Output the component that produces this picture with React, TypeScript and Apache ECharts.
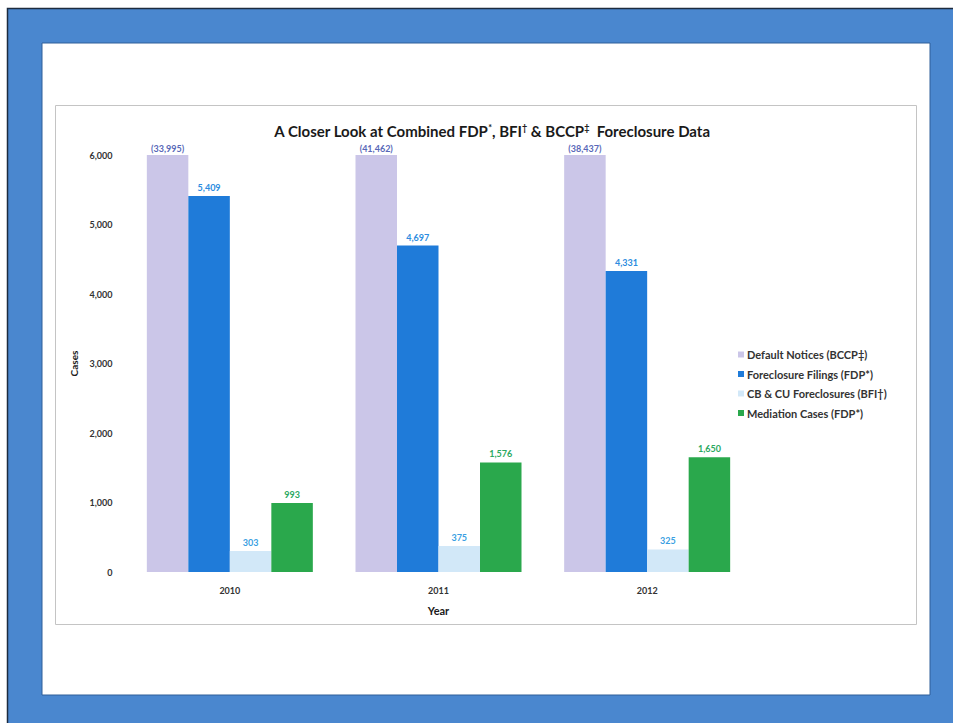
import React, { useEffect, useRef } from "react";
import * as echarts from "echarts";

const years = ["2010", "2011", "2012"];
const defaultNotices = [33995, 41462, 38437];
const foreclosureFilings = [5409, 4697, 4331];
const cbCuForeclosures = [303, 375, 325];
const mediationCases = [993, 1576, 1650];
const yTicks = { min: 0, max: 6000, interval: 1000 };

const seriesNames = [
  "Default Notices (BCCP\u2021)",
  "Foreclosure Filings (FDP*)",
  "CB & CU Foreclosures (BFI\u2020)",
  "Mediation Cases (FDP*)",
];
const colors = ["#cbc6e8", "#1f7bd9", "#d2e8f8", "#2aa84c"];
const labelColors = ["#5868b8", "#2c8ce0", "#3a9fe2", "#2aa860"];

const FONT = "Lato, 'Open Sans', sans-serif";

export default function App() {
  const ref = useRef<HTMLDivElement>(null);
  useEffect(() => {
    if (!ref.current) return;
    const chart = echarts.init(ref.current, undefined, { renderer: "svg" });
    const fmt = (v: number) => v.toLocaleString("en-US");
    const mk = (i: number, data: number[], raw?: number[]) => ({
      name: seriesNames[i],
      type: "bar",
      barWidth: 41.5,
      barGap: "0%",
      itemStyle: { color: colors[i] },
      data: data,
      label: {
        show: true,
        position: "top",
        distance: raw ? 2 : 4,
        color: labelColors[i],
        fontFamily: FONT,
        fontWeight: "bold",
        fontSize: 9,
        formatter: (p: any) =>
          raw ? "(" + fmt(raw[p.dataIndex]) + ")" : fmt(p.value),
      },
    });
    const capped = defaultNotices.map((v) => Math.min(v, yTicks.max));
    chart.setOption({
      animation: false,
      backgroundColor: "#ffffff",
      textStyle: { fontFamily: FONT },
      graphic: [
        {
          type: "rect",
          shape: { x: 7.5, y: 8.5, width: 960, height: 730 },
          style: { fill: "#4a87cf", stroke: "#1c2b3f", lineWidth: 1.5 },
          z: -10,
        },
        {
          type: "rect",
          shape: { x: 42, y: 43, width: 888, height: 652 },
          style: { fill: "#ffffff", stroke: "#2f5f99", lineWidth: 1 },
          z: -9,
        },
        {
          type: "rect",
          shape: { x: 55.5, y: 105.5, width: 861, height: 519 },
          style: { fill: "#ffffff", stroke: "#c4c4c4", lineWidth: 1 },
          z: -8,
        },
      ],
      title: {
        text: "A Closer Look at Combined FDP{s|*}, BFI{s|\u2020} & BCCP{s|\u2021}  Foreclosure Data",
        left: 487,
        textAlign: "center",
        top: 118,
        textStyle: {
          fontFamily: FONT,
          fontWeight: "bold",
          fontSize: 15,
          color: "#1a1a1a",
          rich: {
            s: {
              fontFamily: FONT,
              fontWeight: "bold",
              fontSize: 9,
              color: "#1a1a1a",
              verticalAlign: "top",
              padding: [0, 0, 4, 0],
            },
          },
        },
      },
      legend: {
        orient: "vertical",
        left: 733,
        top: 344,
        itemWidth: 6,
        itemHeight: 6,
        itemGap: 8.5,
        icon: "rect",
        textStyle: {
          fontFamily: FONT,
          fontWeight: "bold",
          fontSize: 11,
          color: "#333333",
          padding: [0, 0, 0, -2],
        },
        data: seriesNames,
      },
      grid: { left: 125.5, right: 201.5, top: 155, bottom: 151 },
      xAxis: {
        type: "category",
        data: years,
        name: "Year",
        nameLocation: "middle",
        nameGap: 33,
        nameTextStyle: {
          fontFamily: FONT,
          fontWeight: "bold",
          fontSize: 11,
          color: "#1a1a1a",
        },
        axisLine: { show: false },
        axisTick: { show: false },
        axisLabel: {
          margin: 14,
          fontFamily: FONT,
          fontWeight: "bold",
          fontSize: 9,
          color: "#333333",
        },
      },
      yAxis: {
        type: "value",
        min: yTicks.min,
        max: yTicks.max,
        interval: yTicks.interval,
        name: "Cases",
        nameLocation: "middle",
        nameGap: 45,
        nameRotate: 90,
        nameTextStyle: {
          fontFamily: FONT,
          fontWeight: "bold",
          fontSize: 10,
          color: "#1a1a1a",
        },
        axisLine: { show: false },
        axisTick: { show: false },
        splitLine: { show: false },
        axisLabel: {
          margin: 13,
          fontFamily: FONT,
          fontWeight: "bold",
          fontSize: 9,
          color: "#333333",
          formatter: (v: number) => fmt(v),
        },
      },
      series: [
        mk(0, capped, defaultNotices),
        mk(1, foreclosureFilings),
        mk(2, cbCuForeclosures),
        mk(3, mediationCases),
      ],
    });
    return () => chart.dispose();
  }, []);
  return (
    <div
      ref={ref}
      style={{ position: "absolute", left: 0, top: 0, width: 953, height: 723 }}
    />
  );
}
